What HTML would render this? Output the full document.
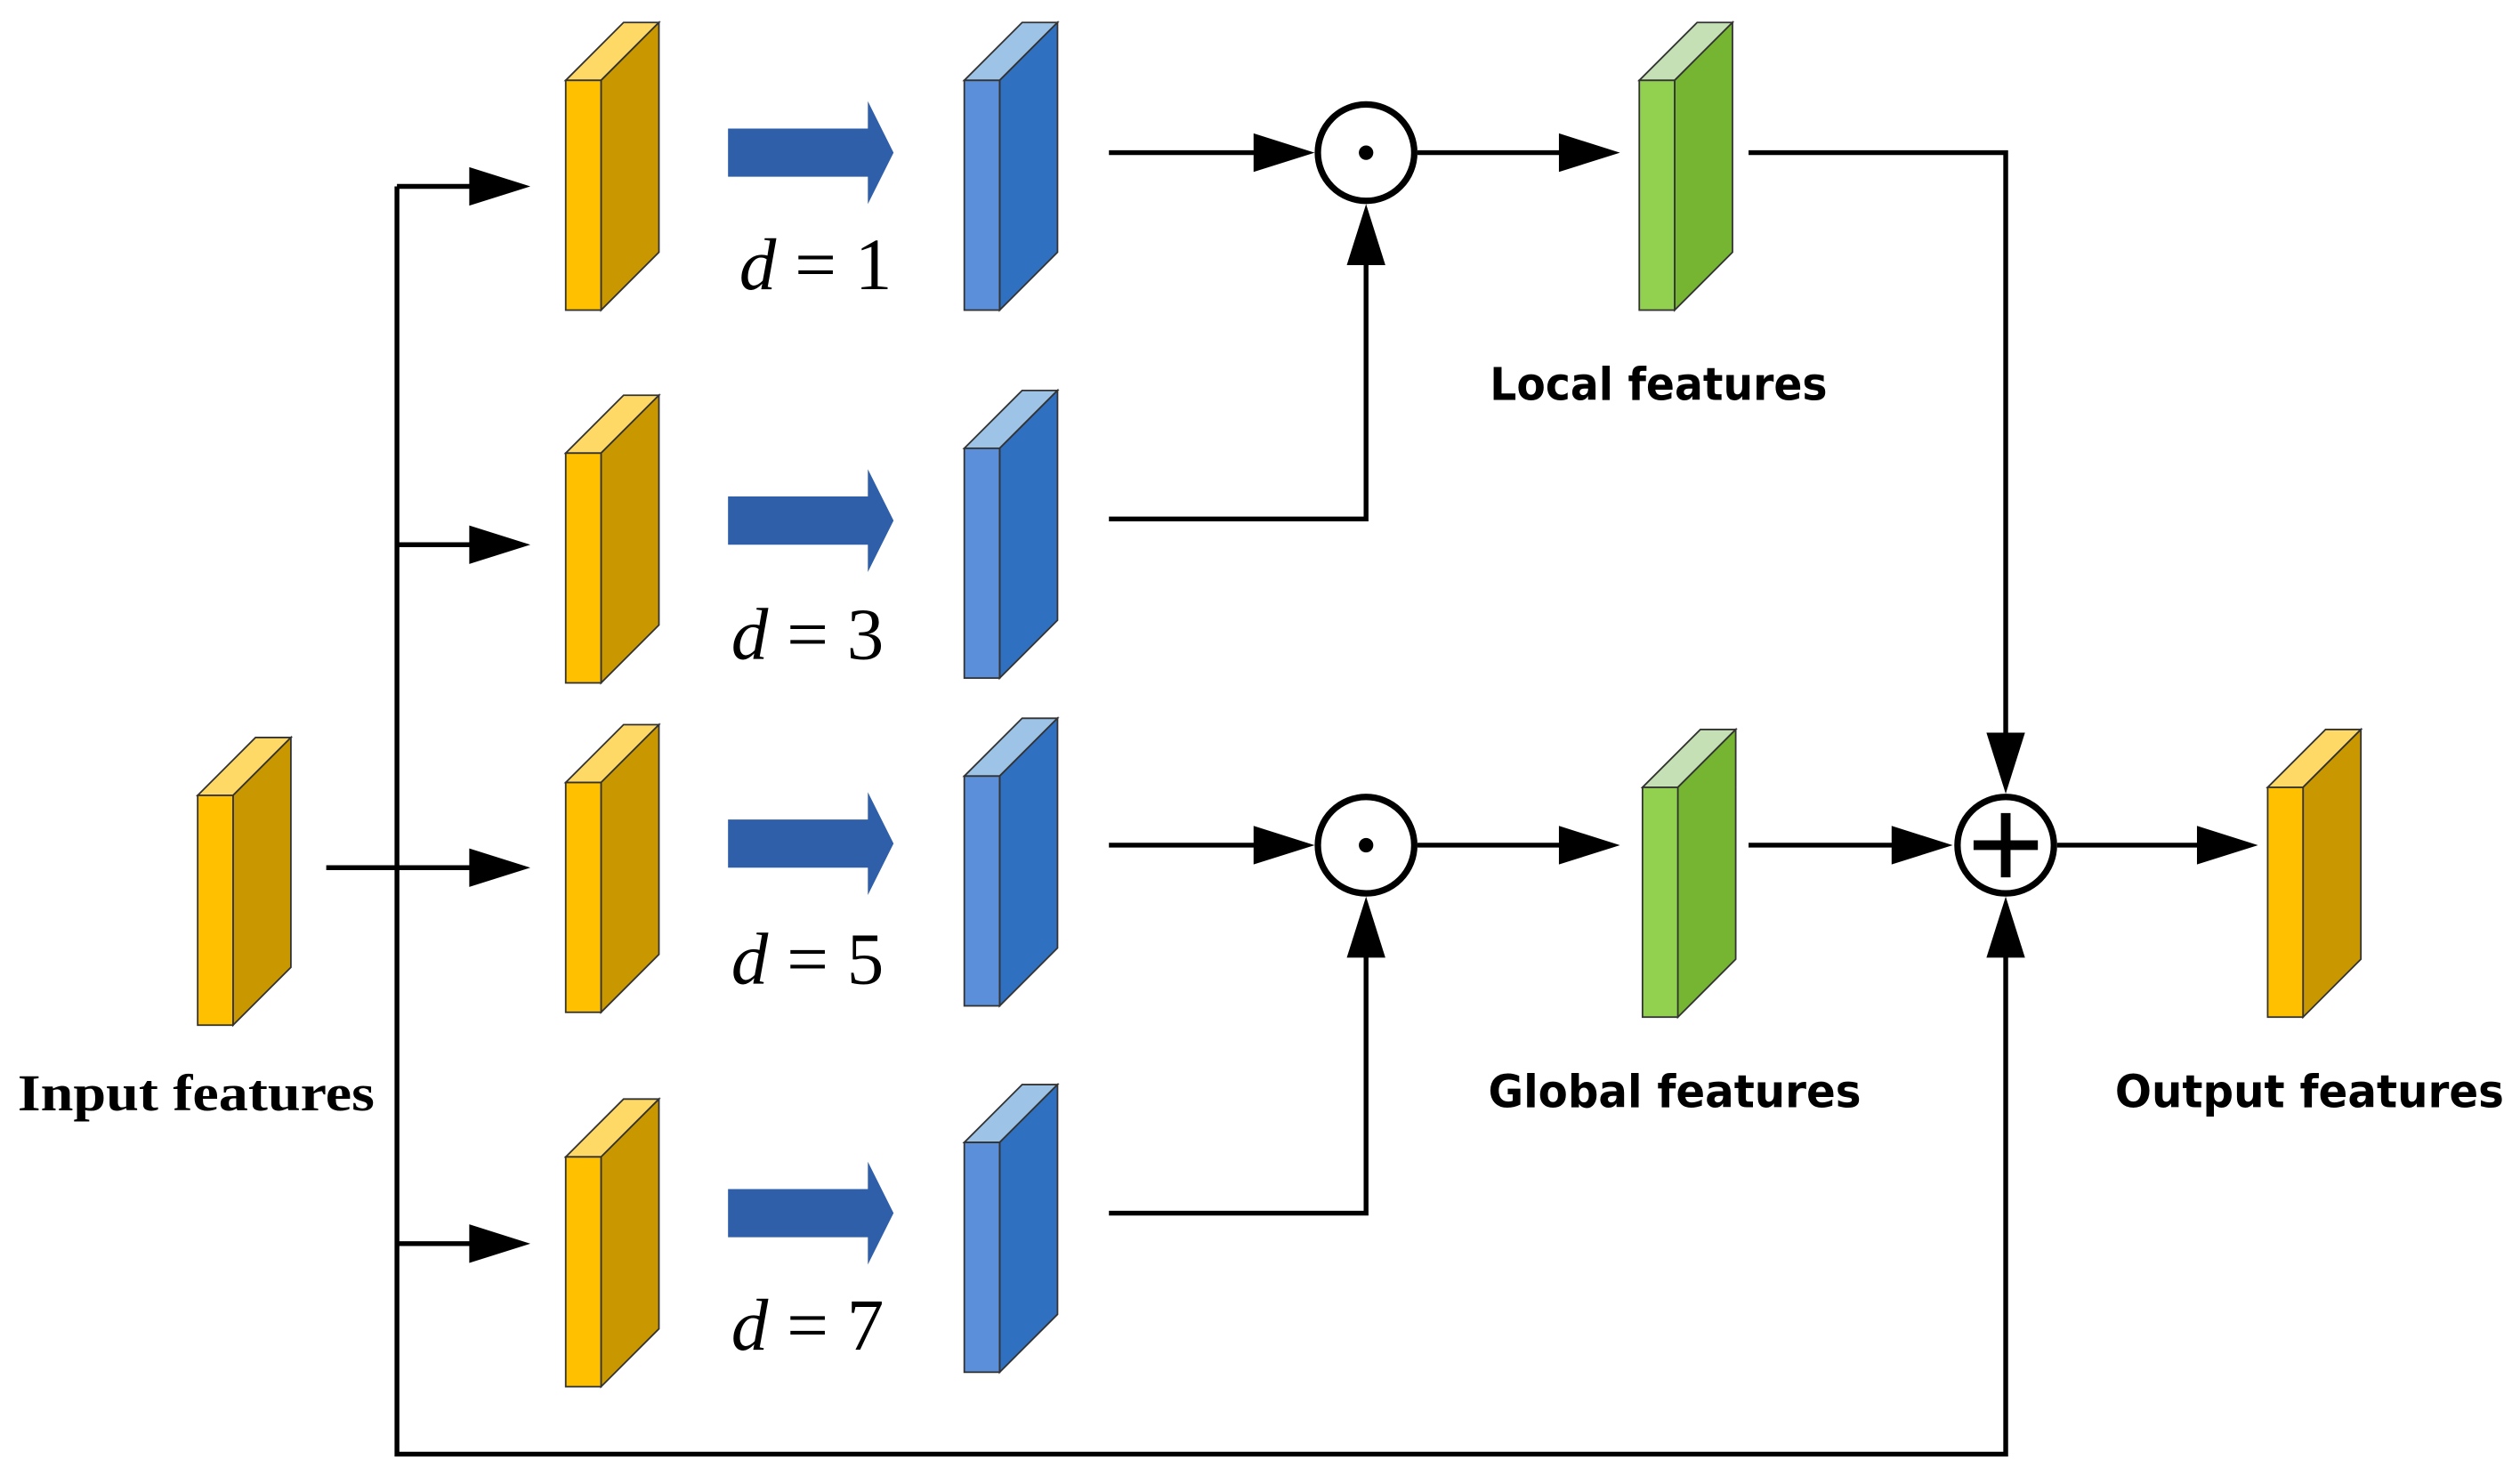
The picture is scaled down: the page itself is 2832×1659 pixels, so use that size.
<!DOCTYPE html>
<html><head><meta charset="utf-8"><style>html,body{margin:0;padding:0;background:#fff}svg{display:block}</style></head>
<body>
<svg width="2832" height="1659" viewBox="0 0 1568 918.6" preserveAspectRatio="none" xmlns="http://www.w3.org/2000/svg">
<script>
const S='http://www.w3.org/2000/svg';
const svg=document.querySelector('svg');
function el(n,a){const e=document.createElementNS(S,n);for(const k in a)e.setAttribute(k,a[k]);svg.appendChild(e);return e;}
function block(x,y,c){const w=22,h=143,d=36;
el('polygon',{points:`${x},${y} ${x+d},${y-d} ${x+w+d},${y-d} ${x+w},${y}`,fill:c[2],stroke:'#333','stroke-width':1});
el('polygon',{points:`${x+w},${y} ${x+w+d},${y-d} ${x+w+d},${y+h-d} ${x+w},${y+h}`,fill:c[1],stroke:'#333','stroke-width':1});
el('rect',{x:x,y:y,width:w,height:h,fill:c[0],stroke:'#333','stroke-width':1});}
const Y=['#FFC000','#C99700','#FFD966'],B=['#5B8FD9','#3070C0','#9DC3E6'],G=['#92D050','#76B531','#C5E0B4'];
block(123,495,Y);
[50,282,487,720].forEach(y=>block(352,y,Y));
[50,279,483,711].forEach(y=>block(600,y,B));
block(1020,50,G);block(1022,490,G);block(1411,490,Y);
[95,324,525,755].forEach(c=>el('polygon',{points:`453,${c-15} 540,${c-15} 540,${c-32} 556,${c} 540,${c+32} 540,${c+15} 453,${c+15}`,fill:'#2E5FA8'}));
function line(pts,w){return el('polyline',{points:pts.map(p=>p.join(',')).join(' '),fill:'none',stroke:'#000','stroke-width':w||3});}
function head(x,y,dir){let p;const L=38,W=12;
if(dir=='r')p=`${x},${y} ${x-L},${y-W} ${x-L},${y+W}`;
if(dir=='u')p=`${x},${y} ${x-W},${y+L} ${x+W},${y+L}`;
if(dir=='d')p=`${x},${y} ${x-W},${y-L} ${x+W},${y-L}`;
el('polygon',{points:p,fill:'#000'});}
function arrowR(x1,x2,y){line([[x1,y],[x2-30,y]]);head(x2,y,'r');}
line([[247,116],[247,905],[1248,905],[1248,590]]);head(1248,558,'u');
line([[203,540],[247,540]]);
[116,339,540,774].forEach(y=>arrowR(247,330,y));
arrowR(690,818,95);arrowR(882,1008,95);
line([[1088,95],[1248,95],[1248,465]]);head(1248,494,'d');
line([[690,323],[850,323],[850,160]]);head(850,127,'u');
arrowR(690,818,526);arrowR(882,1008,526);arrowR(1088,1215,526);arrowR(1280,1405,526);
line([[690,755],[850,755],[850,590]]);head(850,558,'u');
[[850,95],[850,526]].forEach(([x,y])=>{el('circle',{cx:x,cy:y,r:30,fill:'#fff',stroke:'#000','stroke-width':4});el('circle',{cx:x,cy:y,r:4.5,fill:'#000'});});
el('circle',{cx:1248,cy:526,r:30,fill:'#fff',stroke:'#000','stroke-width':4});
line([[1228,526],[1268,526]],6);line([[1248,506],[1248,546]],6);
</script>
<g font-family="Liberation Serif, serif" font-style="italic" font-size="46" fill="#000">
<text x="460" y="180" textLength="95" lengthAdjust="spacingAndGlyphs">d<tspan font-style="normal"> = 1</tspan></text>
<text x="455" y="410" textLength="95" lengthAdjust="spacingAndGlyphs">d<tspan font-style="normal"> = 3</tspan></text>
<text x="455" y="612" textLength="95" lengthAdjust="spacingAndGlyphs">d<tspan font-style="normal"> = 5</tspan></text>
<text x="455" y="840" textLength="95" lengthAdjust="spacingAndGlyphs">d<tspan font-style="normal"> = 7</tspan></text>
</g>
<g font-family="DejaVu Sans, Liberation Sans, sans-serif" font-weight="bold" font-size="28" fill="#000" text-anchor="middle">
<text x="1032" y="249" textLength="210" lengthAdjust="spacingAndGlyphs">Local features</text>
<text x="1042" y="689" textLength="232" lengthAdjust="spacingAndGlyphs">Global features</text>
<text x="1437" y="689" textLength="242" lengthAdjust="spacingAndGlyphs">Output features</text>
</g>
<text x="122" y="691" font-family="Liberation Serif, serif" font-weight="bold" font-size="32" text-anchor="middle" textLength="222" lengthAdjust="spacingAndGlyphs">Input features</text>
</svg>
</body></html>
